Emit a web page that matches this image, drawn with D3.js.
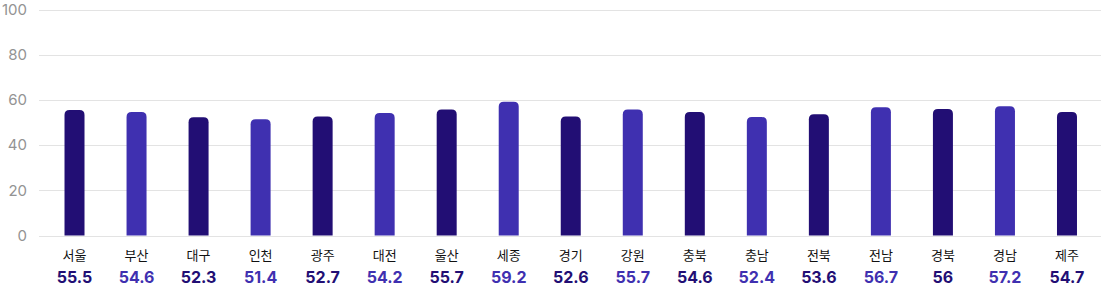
<!DOCTYPE html>
<html>
<head>
<meta charset="utf-8">
<script src="https://cdn.jsdelivr.net/npm/d3@7"></script>
<style>
  body { margin: 0; background: #fff; }
  svg { display: block; font-family: Inter, "Noto Sans CJK KR", sans-serif; }
</style>
</head>
<body>
<div id="chart"></div>
<script>
var regions = ["서울","부산","대구","인천","광주","대전","울산","세종","경기","강원","충북","충남","전북","전남","경북","경남","제주"];
var values = [55.5,54.6,52.3,51.4,52.7,54.2,55.7,59.2,52.6,55.7,54.6,52.4,53.6,56.7,56,57.2,54.7];
var yTicks = [0,20,40,60,80,100];

var width = 1101,
    height = 289;

var colors = ["#220e74", "#3f30b0"];

var svg = d3.select("#chart").append("svg")
    .attr("width", width)
    .attr("height", height);

var x = d3.scaleBand()
    .domain(regions)
    .range([43.5, 1098])
    .paddingInner(0);

var y = d3.scaleLinear()
    .domain([0, 100])
    .range([235.5, 9.5]);

// gridlines + y labels
var grid = svg.append("g");
grid.selectAll("line")
    .data(yTicks)
    .enter().append("line")
    .attr("x1", 39)
    .attr("x2", width)
    .attr("y1", function(d) { return Math.round(y(d)) + 0.5; })
    .attr("y2", function(d) { return Math.round(y(d)) + 0.5; })
    .attr("stroke", "#e3e3e3")
    .attr("stroke-width", 1);

grid.selectAll("text")
    .data(yTicks)
    .enter().append("text")
    .attr("x", 27)
    .attr("y", function(d) { return y(d); })
    .attr("dy", "0.35em")
    .attr("text-anchor", "end")
    .attr("fill", "#939393")
    .style("font-size", "15px")
    .text(function(d) { return d; });

var barW = 20, r = 5;

// bar with rounded top corners
function barPath(d) {
  var x0 = x(d.k) + x.bandwidth() / 2 - barW / 2,
      x1 = x0 + barW,
      top = y(d.v),
      bot = y(0);
  return "M" + x0 + "," + bot +
    "V" + (top + r) +
    "Q" + x0 + "," + top + " " + (x0 + r) + "," + top +
    "H" + (x1 - r) +
    "Q" + x1 + "," + top + " " + x1 + "," + (top + r) +
    "V" + bot + "Z";
}

var data = regions.map(function(k, i) { return {k: k, v: values[i], i: i}; });

svg.append("g").selectAll("path")
    .data(data)
    .enter().append("path")
    .attr("d", barPath)
    .attr("fill", function(d) { return colors[d.i % 2]; });

var labels = svg.append("g").selectAll("g")
    .data(data)
    .enter().append("g")
    .attr("transform", function(d) { return "translate(" + (x(d.k) + x.bandwidth() / 2) + ",0)"; });

labels.append("text")
    .attr("y", 255)
    .attr("dy", "0.35em")
    .attr("text-anchor", "middle")
    .attr("fill", "#111")
    .style("font-family", "'Noto Sans CJK KR', sans-serif")
    .style("font-size", "13px")
    .text(function(d) { return d.k; });

labels.append("text")
    .attr("y", 277)
    .attr("dy", "0.35em")
    .attr("text-anchor", "middle")
    .attr("fill", function(d) { return colors[d.i % 2]; })
    .style("font-size", "16px")
    .style("font-weight", "700")
    .text(function(d) { return d.v; });
</script>
</body>
</html>
